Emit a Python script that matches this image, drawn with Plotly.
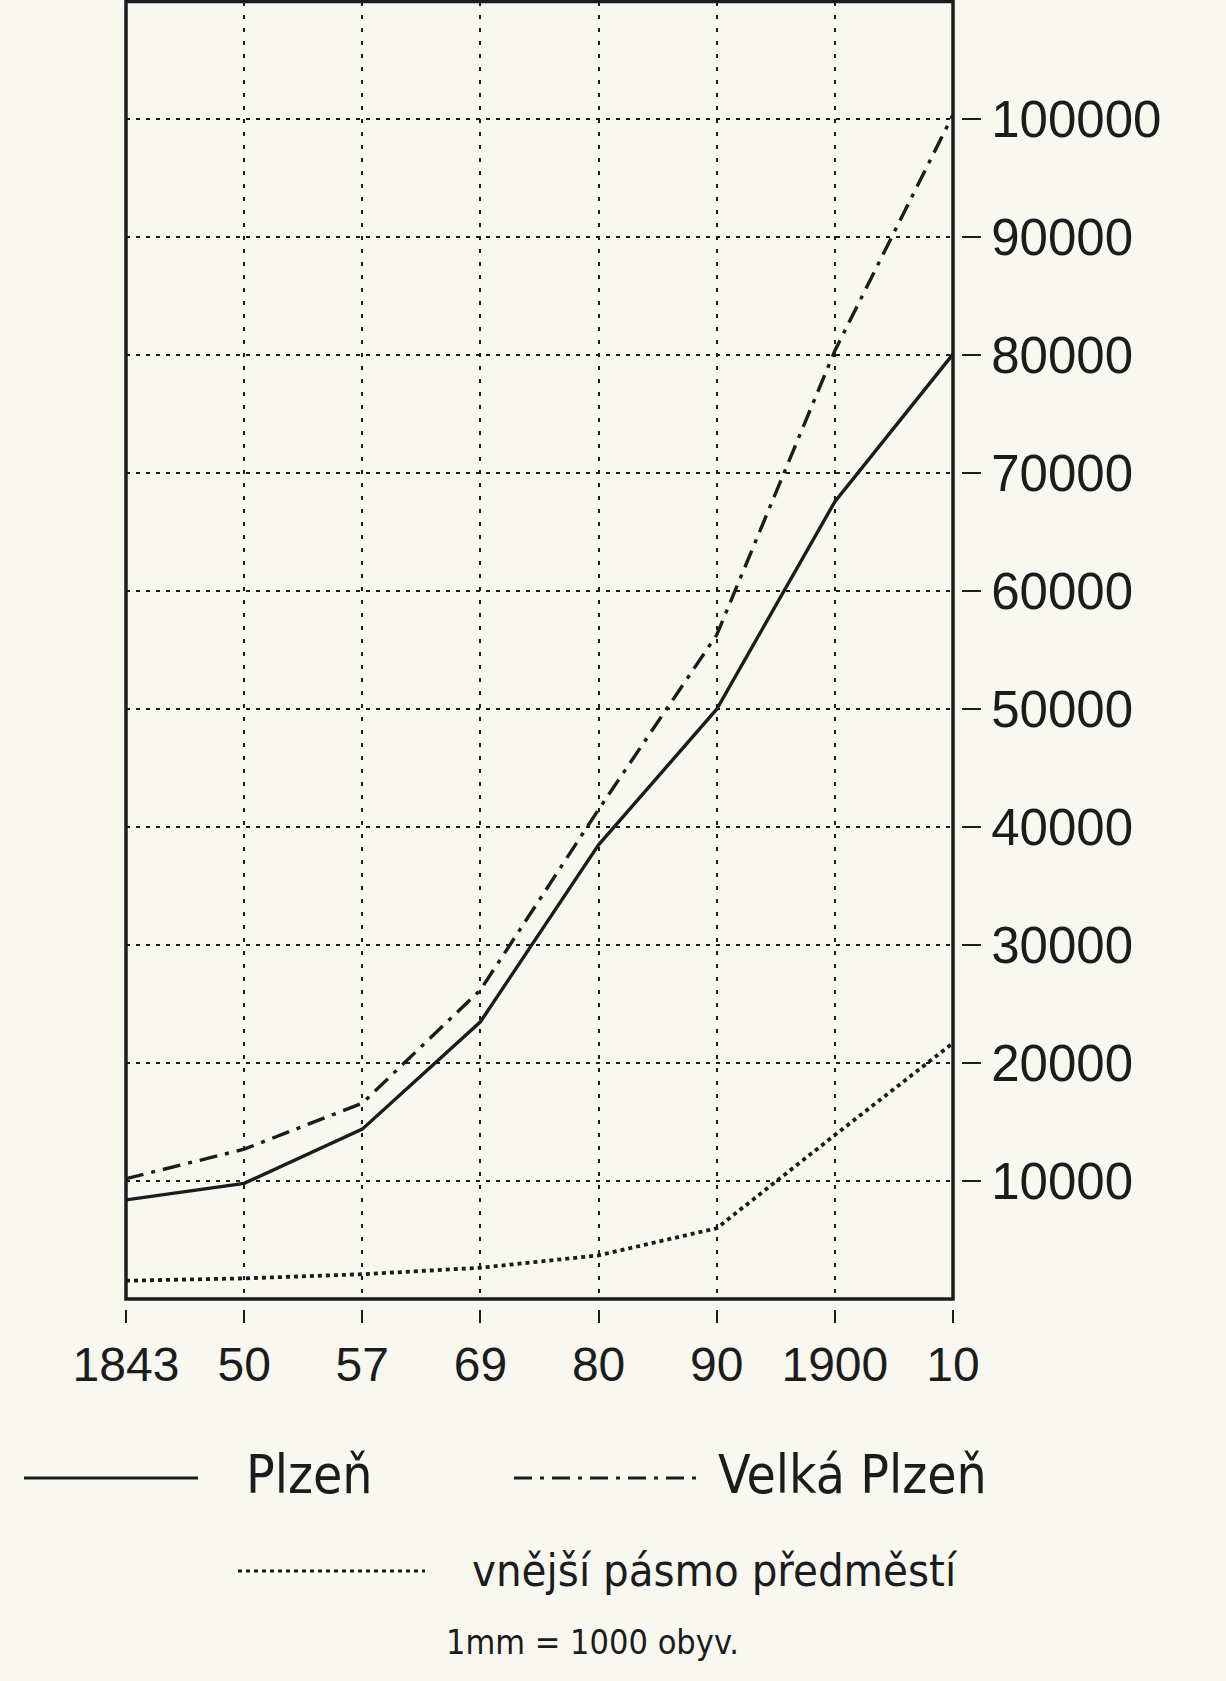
import plotly.graph_objects as go

# census years (positions on the x axis are evenly spaced, one per census)
years = ["1843", "50", "57", "69", "80", "90", "1900", "10"]

# population
plzen = [8400, 9800, 14400, 23500, 38500, 50000, 67600, 80100]
velka_plzen = [10200, 12700, 16600, 26200, 41500, 56300, 80400, 100400]
predmesti = [1550, 1750, 2100, 2650, 3700, 6000, 13900, 21700]

y_ticks = [10000, 20000, 30000, 40000, 50000, 60000, 70000, 80000, 90000, 100000]
y_tick_labels = [str(v) for v in y_ticks]

W, H = 1226, 1681
INK = "#1c1c1c"
PAPER = "#f8f7f0"
TICK_FONT = "Liberation Sans, Arial, sans-serif"
TEXT_FONT = "Liberation Sans Narrow, DejaVu Sans Condensed, Liberation Sans, sans-serif"

DASHDOT = "18px,8px,4px,8px"
DOTTED = "4px,4px"


def px(x):
    return x / W


def py(y):
    return 1 - y / H


fig = go.Figure()

fig.add_trace(go.Scatter(x=years, y=plzen, mode="lines", name="Plzeň",
                         line=dict(color=INK, width=3.4)))
fig.add_trace(go.Scatter(x=years, y=velka_plzen, mode="lines", name="Velká Plzeň",
                         line=dict(color=INK, width=3.4, dash=DASHDOT)))
fig.add_trace(go.Scatter(x=years, y=predmesti, mode="lines", name="vnější pásmo předměstí",
                         line=dict(color=INK, width=3.8, dash=DOTTED)))

# frame around the plot area
fig.add_shape(type="rect", xref="x domain", yref="y domain", x0=0, x1=1, y0=0, y1=1,
              line=dict(color=INK, width=3.5), layer="above")

# hand-made legend
legend_rows = [
    (24, 198, 1478, "solid", 244, 1474, "Plzeň", 53),
    (514, 700, 1478, DASHDOT, 716, 1474, "Velká Plzeň", 53),
    (238, 425, 1571, DOTTED, 470, 1570, "vnější pásmo předměstí", 45),
]
for x0, x1, ly, dash, tx, ty, label, size in legend_rows:
    fig.add_shape(type="line", xref="paper", yref="paper",
                  x0=px(x0), x1=px(x1), y0=py(ly), y1=py(ly),
                  line=dict(color=INK, width=3, dash=dash))
    fig.add_annotation(x=px(tx), y=py(ty), xref="paper", yref="paper", text=label,
                       showarrow=False, xanchor="left", yanchor="middle",
                       font=dict(family=TEXT_FONT, size=size, color=INK))

fig.add_annotation(x=px(444), y=py(1642), xref="paper", yref="paper",
                   text="1mm = 1000 obyv.", showarrow=False,
                   xanchor="left", yanchor="middle",
                   font=dict(family=TEXT_FONT, size=34, color=INK))

fig.update_layout(
    width=W, height=H,
    margin=dict(l=0, r=0, t=0, b=0),
    paper_bgcolor=PAPER,
    plot_bgcolor=PAPER,
    showlegend=False,
    xaxis=dict(
        type="category",
        categoryorder="array", categoryarray=years,
        range=[0, len(years) - 1],
        domain=[px(126), px(953)],
        anchor="free", position=py(1309),
        showline=False, zeroline=False,
        ticks="outside", ticklen=13, tickwidth=2, tickcolor=INK,
        showgrid=True, gridcolor=INK, gridwidth=2, griddash="4px,9px",
        tickfont=dict(family=TICK_FONT, size=48, color=INK),
        automargin=False,
    ),
    yaxis=dict(
        range=[0, 110000],
        domain=[py(1299), py(1.5)],
        side="right", anchor="free", position=px(961),
        showline=False, zeroline=False,
        tickvals=y_ticks, ticktext=y_tick_labels,
        ticks="outside", ticklen=19, tickwidth=2, tickcolor=INK,
        showgrid=True, gridcolor=INK, gridwidth=2, griddash="4px,6px",
        tickfont=dict(family=TICK_FONT, size=51, color=INK),
        automargin=False,
    ),
)

fig.write_html("out.html", config={"displayModeBar": False},
               post_script="document.body.style.margin='0';")
